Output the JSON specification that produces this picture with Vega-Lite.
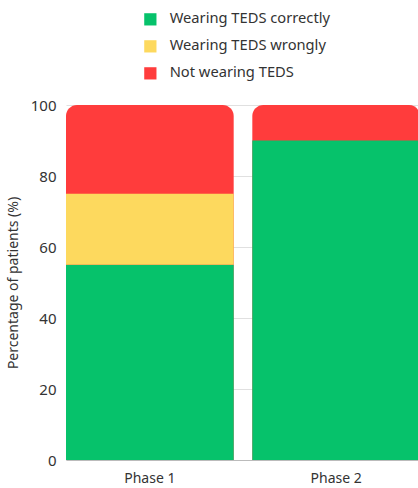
{
  "$schema": "https://vega.github.io/schema/vega-lite/v6.json",
  "width": 354,
  "height": 355,
  "autosize": {"type": "none"},
  "padding": {"left": 66, "top": 105, "right": 0, "bottom": 28},
  "background": "white",
  "data": {"values": [
    {"phase": "Phase 1", "status": "Wearing TEDS correctly", "pct": 55, "rank": 1},
    {"phase": "Phase 1", "status": "Wearing TEDS wrongly", "pct": 20, "rank": 2},
    {"phase": "Phase 1", "status": "Not wearing TEDS", "pct": 25, "rank": 3},
    {"phase": "Phase 2", "status": "Wearing TEDS correctly", "pct": 90, "rank": 1},
    {"phase": "Phase 2", "status": "Wearing TEDS wrongly", "pct": 0, "rank": 2},
    {"phase": "Phase 2", "status": "Not wearing TEDS", "pct": 10, "rank": 3}
  ]},
  "config": {
    "font": "Noto Sans",
    "view": {"stroke": null},
    "axis": {"labelColor": "#333", "titleColor": "#333", "labelFont": "Noto Sans", "titleFont": "Noto Sans"}
  },
  "encoding": {
    "x": {
      "field": "phase", "type": "nominal",
      "scale": {"paddingInner": 0.1, "paddingOuter": 0},
      "axis": {"title": null, "labelAngle": 0, "labelFontSize": 14, "labelPadding": 11, "ticks": false, "domainColor": "#bbb", "domainWidth": 1}
    }
  },
  "layer": [
    {
      "mark": {"type": "bar", "color": "#FF3C3C", "cornerRadiusTopLeft": 11, "cornerRadiusTopRight": 11},
      "encoding": {
        "y": {
          "aggregate": "sum", "field": "pct", "type": "quantitative",
          "scale": {"domain": [0, 100]},
          "axis": {
            "title": "Percentage of patients (%)", "titleFontSize": 14, "titleFontWeight": "normal", "titlePadding": 10,
            "values": [0, 20, 40, 60, 80, 100], "labelFontSize": 15, "labelPadding": 10,
            "ticks": false, "domain": false, "gridColor": "#e0e0e0", "gridWidth": 1
          }
        }
      }
    },
    {
      "transform": [{"filter": "datum.status !== 'Not wearing TEDS'"}],
      "mark": {"type": "bar"},
      "encoding": {
        "y": {"field": "pct", "type": "quantitative", "stack": "zero"},
        "order": {"field": "rank", "type": "quantitative"},
        "color": {
          "field": "status", "type": "nominal",
          "scale": {
            "domain": ["Wearing TEDS correctly", "Wearing TEDS wrongly", "Not wearing TEDS"],
            "range": ["#06C26B", "#FDD95E", "#FF3C3C"]
          },
          "legend": {
            "title": null, "orient": "none", "legendX": 77, "legendY": -93,
            "direction": "vertical", "symbolType": "square", "symbolSize": 150,
            "symbolStrokeWidth": 0, "labelFontSize": 14.7, "labelColor": "#333",
            "labelLimit": 400, "rowPadding": 11, "labelOffset": 12, "labelFont": "Noto Sans"
          }
        }
      }
    }
  ]
}
